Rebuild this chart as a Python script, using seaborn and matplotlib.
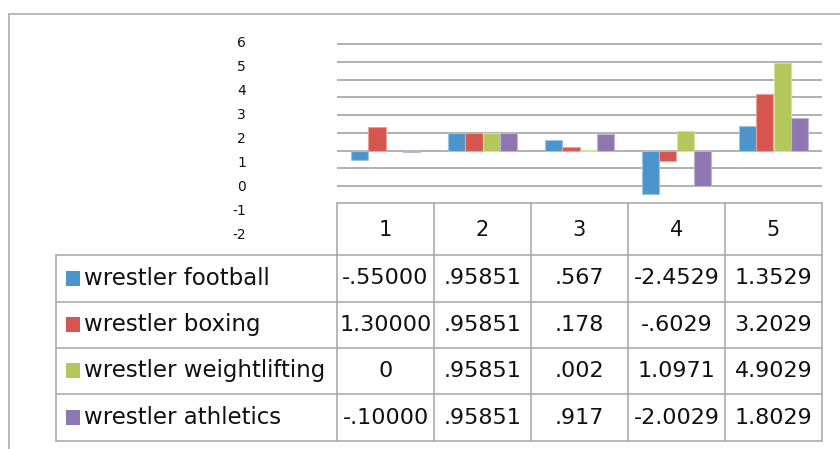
import matplotlib
matplotlib.use("Agg")
import matplotlib.pyplot as plt
import seaborn as sns
import pandas as pd
from matplotlib.colors import to_rgb

# --- data -------------------------------------------------------------
categories = ["1", "2", "3", "4", "5"]
series = ["wrestler football", "wrestler boxing",
          "wrestler weightlifting", "wrestler athletics"]
football = ["-.55000", ".95851", ".567", "-2.4529", "1.3529"]
boxing = ["1.30000", ".95851", ".178", "-.6029", "3.2029"]
weightlifting = ["0", ".95851", ".002", "1.0971", "4.9029"]
athletics = ["-.10000", ".95851", ".917", "-2.0029", "1.8029"]
axis_labels = ["6", "5", "4", "3", "2", "1", "0", "-1", "-2"]

colors = ["#4B94CC", "#D6564F", "#B3C75B", "#8C77B0"]
table_text = [football, boxing, weightlifting, athletics]

rows = []
for name, vals in zip(series, table_text):
    for cat, v in zip(categories, vals):
        rows.append({"category": cat, "series": name, "value": float(v)})
df = pd.DataFrame(rows)

# --- figure -----------------------------------------------------------
W, H = 840, 449
sns.set_style("white")
plt.rcParams["font.family"] = ["DejaVu Sans"]
fig = plt.figure(figsize=(W / 100, H / 100), dpi=100)


def px_rect(x0, y_top, x1, y_bot):
    return [x0 / W, 1 - y_bot / H, (x1 - x0) / W, (y_bot - y_top) / H]


# bar plot area: gridlines every 1 unit, 17.75 px apart
unit = 17.75
y_top_val, y_bot_val = 6.2, -2.96
zero_px = 150.5
ax = fig.add_axes(px_rect(337, zero_px - y_top_val * unit,
                          822, zero_px - y_bot_val * unit))
sns.barplot(data=df, x="category", y="value", hue="series",
            hue_order=series, order=categories, palette=colors,
            width=0.72, gap=0, ax=ax, legend=False, saturation=1)
for p in ax.patches:
    fc = to_rgb(p.get_facecolor())
    p.set_edgecolor(tuple(0.55 * c + 0.45 for c in fc))
    p.set_linewidth(0.8 if p.get_height() != 0 else 0)
ax.set_ylim(y_bot_val, y_top_val)
ax.set_yticks(range(-2, 7))
ax.set_yticklabels([])
ax.tick_params(left=False, bottom=False, labelbottom=False)
ax.yaxis.grid(True, color="#a3a3a3", linewidth=1.2)
ax.set_axisbelow(True)
ax.set_xlabel("")
ax.set_ylabel("")
for s in ax.spines.values():
    s.set_visible(False)
ax.patch.set_alpha(0)

# value axis labels, spaced independently of the gridlines
lab_ax = fig.add_axes(px_rect(251, 41.5, 260, 233.5))
lab_ax.set_ylim(-2, 6)
lab_ax.set_yticks([float(t) for t in axis_labels])
lab_ax.set_yticklabels(axis_labels, fontsize=10, color="#111111")
lab_ax.tick_params(left=False, bottom=False, labelbottom=False, pad=0)
for s in lab_ax.spines.values():
    s.set_visible(False)
lab_ax.patch.set_alpha(0)

# overlay in pixel coordinates for frame and data table
ov = fig.add_axes([0, 0, 1, 1])
ov.set_xlim(0, W)
ov.set_ylim(H, 0)
ov.axis("off")
ov.patch.set_alpha(0)

grid_c = "#a6a6a6"
lw = 1.1
# outer chart frame
ov.plot([9, 9], [14, H], color=grid_c, lw=lw)
ov.plot([9, W], [14, 14], color=grid_c, lw=lw)

col_x = [337 + 97 * i for i in range(6)]
row_y = [255, 302, 348, 394, 441]
head_top = 203
# header cells
ov.plot([col_x[0], col_x[-1]], [head_top, head_top], color=grid_c, lw=lw)
for x in col_x:
    ov.plot([x, x], [head_top, row_y[-1]], color=grid_c, lw=lw)
for y in row_y:
    ov.plot([56, col_x[-1]], [y, y], color=grid_c, lw=lw)
ov.plot([56, 56], [row_y[0], row_y[-1]], color=grid_c, lw=lw)

for i, cat in enumerate(categories):
    ov.text((col_x[i] + col_x[i + 1]) / 2, (head_top + row_y[0]) / 2 + 1,
            cat, ha="center", va="center", fontsize=15, color="#111111")

for r, (name, vals, c) in enumerate(zip(series, table_text, colors)):
    yc = (row_y[r] + row_y[r + 1]) / 2
    ov.add_patch(plt.Rectangle((66, yc - 8), 14, 15, facecolor=c,
                               edgecolor="none"))
    ov.text(84, yc, name, ha="left", va="center", fontsize=16.5,
            color="#111111")
    for i, v in enumerate(vals):
        ov.text((col_x[i] + col_x[i + 1]) / 2, yc, v, ha="center",
                va="center", fontsize=16, color="#111111")

fig.savefig("out.png", dpi=100)
